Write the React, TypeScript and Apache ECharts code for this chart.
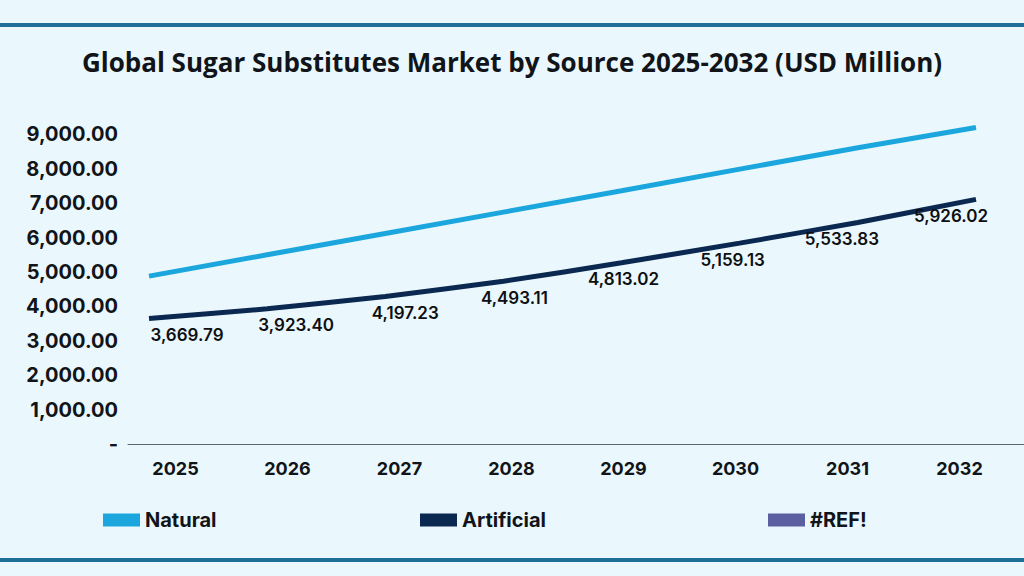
import { useEffect, useRef } from "react";
import * as echarts from "echarts";

const years = ["2025", "2026", "2027", "2028", "2029", "2030", "2031", "2032"];
// line heights as drawn in the picture
const naturalLine = [4880, 5500, 6120, 6740, 7360, 7990, 8610, 9200];
const artificialLine = [3650, 3930, 4290, 4730, 5270, 5840, 6440, 7110];
// data labels printed under the Artificial line
const artificialLabels = [3669.79, 3923.4, 4197.23, 4493.11, 4813.02, 5159.13, 5533.83, 5926.02];
const yMax = 10000;
const yStep = 1000;

const NATURAL = "#1ba7dd";
const ARTIFICIAL = "#0b2850";
const REF = "#5b5f9f";
const INK = "#111418";
const FONT = "Inter, 'Noto Sans', sans-serif";

const fmt = (v: number) =>
  v.toLocaleString("en-US", { minimumFractionDigits: 2, maximumFractionDigits: 2 });

export default function App() {
  const ref = useRef<HTMLDivElement | null>(null);

  useEffect(() => {
    if (!ref.current) return;
    const chart = echarts.init(ref.current, undefined, { renderer: "svg" });

    const gridTop = 100;
    const gridBottom = 132;
    const hiddenY = (gridIndex: number) => ({
      type: "value" as const,
      gridIndex,
      min: 0,
      max: yMax,
      interval: yStep,
      show: false,
      splitLine: { show: false },
    });
    const hiddenX = (gridIndex: number) => ({
      type: "category" as const,
      gridIndex,
      data: years,
      boundaryGap: false,
      show: false,
    });
    const legendText = { color: INK, fontFamily: FONT, fontWeight: 700, fontSize: 20 };
    const legendBase = {
      top: 510,
      itemWidth: 37,
      itemHeight: 13,
      itemGap: 0,
      padding: 0,
      selectedMode: false,
      textStyle: legendText,
    };

    chart.setOption({
      animation: false,
      backgroundColor: "#eaf8fd",
      title: {
        text: "Global Sugar Substitutes Market by Source 2025-2032 (USD Million)",
        left: "center",
        top: 49,
        padding: 0,
        textStyle: {
          fontFamily: "'Open Sans', Roboto, sans-serif",
          fontWeight: 700,
          fontSize: 26,
          color: INK,
        },
      },
      graphic: [
        { type: "rect", left: 0, top: 23, shape: { width: 1024, height: 4 }, style: { fill: "#1f6e96" } },
        { type: "rect", left: 0, top: 558, shape: { width: 1024, height: 4 }, style: { fill: "#1f6e96" } },
      ],
      legend: [
        { ...legendBase, left: 103, data: [{ name: "Natural", icon: "rect" }] },
        { ...legendBase, left: 420, data: [{ name: "Artificial", icon: "rect" }] },
        { ...legendBase, left: 768, data: [{ name: "#REF!", icon: "rect" }] },
      ],
      grid: [
        { left: 128, right: 0, top: gridTop, bottom: gridBottom },
        { left: 149, right: 48, top: gridTop, bottom: gridBottom },
        { left: 187, right: 73, top: gridTop, bottom: gridBottom },
      ],
      xAxis: [
        {
          type: "category",
          gridIndex: 0,
          data: years,
          boundaryGap: true,
          axisLine: { lineStyle: { color: "#5b6670", width: 1 } },
          axisTick: { show: false },
          axisLabel: {
            color: INK,
            fontFamily: FONT,
            fontWeight: 700,
            fontSize: 18,
            margin: 15,
            padding: [0, 17, 0, 0],
          },
        },
        hiddenX(1),
        hiddenX(2),
      ],
      yAxis: [
        {
          type: "value",
          gridIndex: 0,
          min: 0,
          max: yMax,
          interval: yStep,
          axisLine: { show: false },
          axisTick: { show: false },
          splitLine: { show: false },
          axisLabel: {
            color: INK,
            fontFamily: FONT,
            fontWeight: 700,
            fontSize: 20,
            margin: 10,
            formatter: (v: number) => (v === 0 ? "-" : v >= yMax ? "" : fmt(v)),
          },
        },
        hiddenY(1),
        hiddenY(2),
      ],
      series: [
        {
          name: "Natural",
          type: "line",
          xAxisIndex: 1,
          yAxisIndex: 1,
          data: naturalLine,
          symbol: "none",
          color: NATURAL,
          lineStyle: { width: 5, color: NATURAL, cap: "butt" },
        },
        {
          name: "Artificial",
          type: "line",
          xAxisIndex: 1,
          yAxisIndex: 1,
          data: artificialLine,
          symbol: "none",
          smooth: 0.2,
          color: ARTIFICIAL,
          lineStyle: { width: 5, color: ARTIFICIAL, cap: "butt" },
        },
        {
          name: "#REF!",
          type: "line",
          xAxisIndex: 1,
          yAxisIndex: 1,
          data: [],
          color: REF,
        },
        {
          name: "Artificial labels",
          type: "scatter",
          xAxisIndex: 2,
          yAxisIndex: 2,
          data: artificialLine,
          symbolSize: 0,
          silent: true,
          z: 5,
          itemStyle: { opacity: 1 },
          label: {
            show: true,
            position: "bottom",
            distance: 8,
            color: "#0d0f12",
            fontFamily: FONT,
            fontWeight: 600,
            fontSize: 17,
            formatter: (p: { dataIndex: number }) => fmt(artificialLabels[p.dataIndex]),
          },
        },
      ],
    });

    return () => chart.dispose();
  }, []);

  return (
    <div
      ref={ref}
      style={{ position: "absolute", left: 0, top: 0, width: 1024, height: 576 }}
    />
  );
}
